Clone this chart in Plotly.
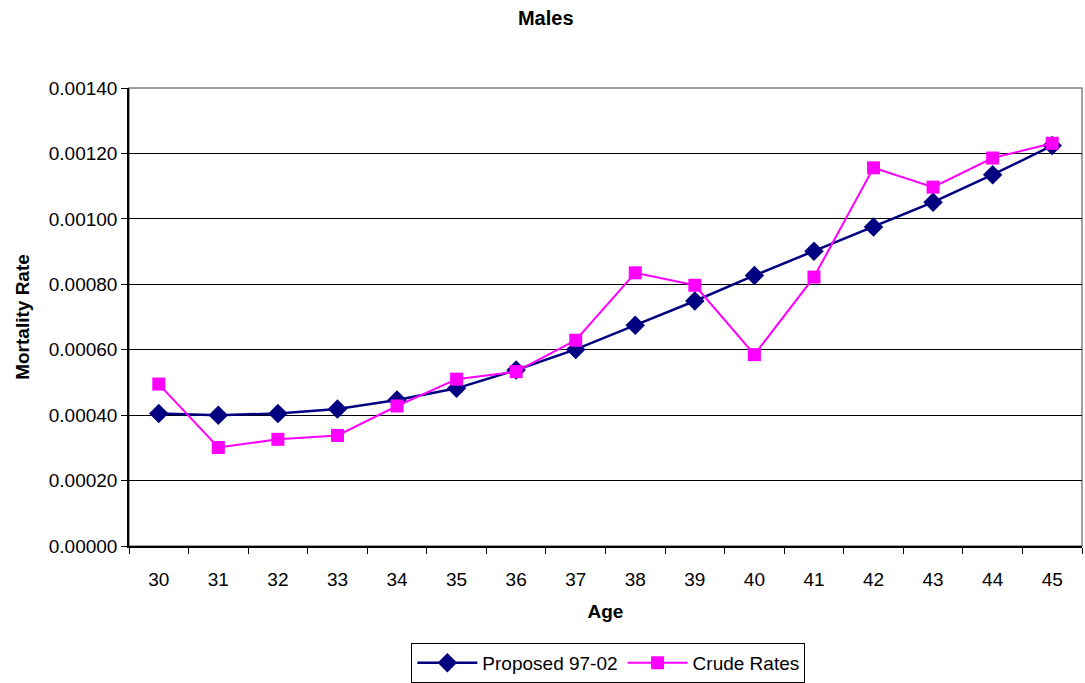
import plotly.graph_objects as go

ages = [str(a) for a in range(30, 46)]
proposed = [0.000405, 0.000400, 0.000405, 0.000419, 0.000446, 0.000482, 0.000538, 0.000601,
            0.000675, 0.000749, 0.000827, 0.000901, 0.000975, 0.001051, 0.001135, 0.001224]
crude = [0.000495, 0.000301, 0.000326, 0.000338, 0.000428, 0.000510, 0.000533, 0.000629,
         0.000835, 0.000797, 0.000585, 0.000822, 0.001156, 0.001097, 0.001186, 0.001231]
y_ticks = [0.0, 0.0002, 0.0004, 0.0006, 0.0008, 0.0010, 0.0012, 0.0014]

FONT = "Liberation Sans, Arial, sans-serif"
TITLE_FONT = dict(family=FONT, size=19, color="black")

fig = go.Figure()
fig.add_trace(go.Scatter(
    x=ages, y=proposed, name="Proposed 97-02", mode="lines+markers",
    line=dict(color="#000080", width=2.5),
    marker=dict(symbol="diamond", size=15, color="#000080"),
))
fig.add_trace(go.Scatter(
    x=ages, y=crude, name="Crude Rates", mode="lines+markers",
    line=dict(color="#FF00FF", width=2),
    marker=dict(symbol="square", size=13, color="#FF00FF"),
))

# gray frame around the plotting area
fig.add_shape(type="rect", xref="paper", yref="paper", x0=0, y0=0, x1=1, y1=1,
              line=dict(color="#808080", width=1.5), layer="below")

fig.update_layout(
    width=1085, height=683,
    margin=dict(l=129, r=3, t=88, b=137, autoexpand=False),
    paper_bgcolor="white", plot_bgcolor="white",
    font=dict(family=FONT, size=19, color="black"),
    title=dict(text="<b>Males</b>", x=0.503, xanchor="center", y=0.974, yanchor="middle",
               font=dict(family=FONT, size=20, color="black")),
    xaxis=dict(
        type="category", showgrid=False, tickson="boundaries",
        ticks="outside", ticklen=6, tickcolor="black",
        showline=True, linecolor="black", linewidth=1.5,
        ticklabelstandoff=15, automargin=False,
        tickfont=dict(family=FONT, size=19, color="black"),
        title=dict(text="<b>Age</b>", standoff=16, font=TITLE_FONT),
        range=[-0.5, 15.5],
    ),
    yaxis=dict(
        range=[0, 0.0014], tickvals=y_ticks, tickformat=".5f",
        showgrid=True, gridcolor="black", gridwidth=1,
        ticks="outside", ticklen=6, tickcolor="black",
        tickfont=dict(family=FONT, size=19, color="black"),
        showline=True, linecolor="black", linewidth=1.5,
        zeroline=False, automargin=False,
        title=dict(text="<b>Mortality Rate</b>", standoff=14, font=TITLE_FONT),
    ),
    legend=dict(
        orientation="h", x=0.503, xanchor="center", y=-0.2555, yanchor="middle",
        bordercolor="black", borderwidth=1, bgcolor="white",
        font=dict(family=FONT, size=19, color="black"), itemwidth=60,
    ),
)

fig.write_html("out.html")
